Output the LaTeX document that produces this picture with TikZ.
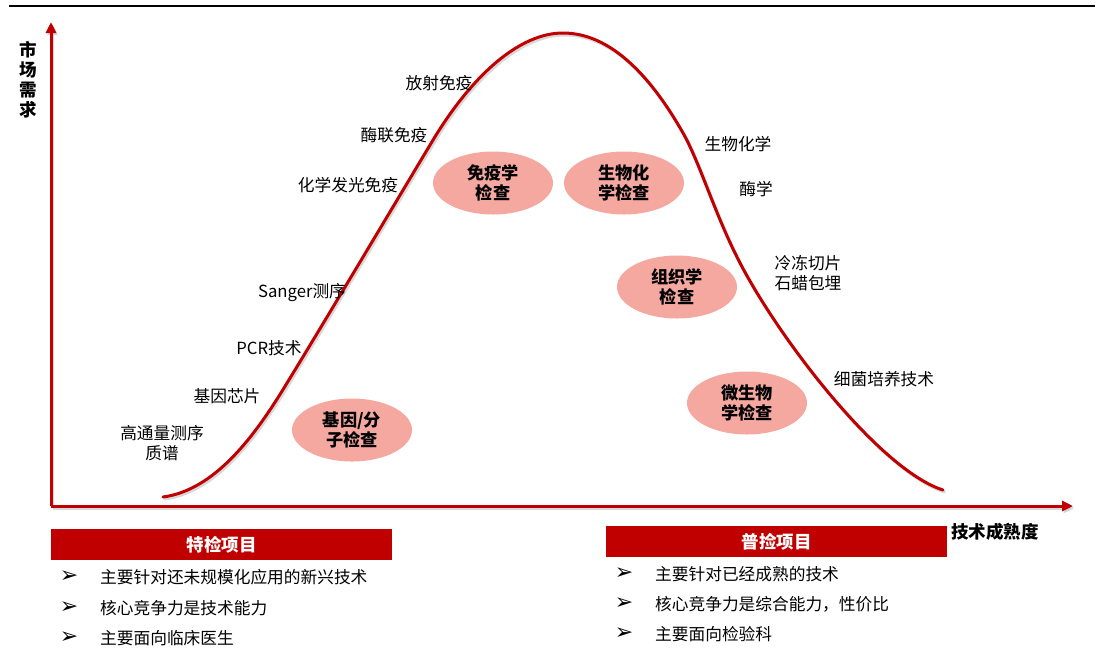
\documentclass[tikz,border=0pt]{standalone}
\usepackage{fontspec}
\setmainfont{Noto Sans CJK SC}
\newfontfamily\dvs{DejaVu Sans}
\usetikzlibrary{arrows.meta,shapes.geometric}
\definecolor{axisred}{RGB}{192,0,0}
\definecolor{ellfill}{RGB}{245,168,160}
\begin{document}
\begin{tikzpicture}[x=1pt,y=-1pt,
  lbl/.style={font=\fontsize{16.7}{20}\selectfont, text=black, inner sep=0pt, align=center},
  ell/.style={ellipse, fill=ellfill, minimum width=120pt, minimum height=63pt, inner sep=0pt, align=center, font=\fontsize{17.2}{20}\selectfont\bfseries},
  hdr/.style={fill=axisred, text=white, font=\fontsize{17.5}{20}\selectfont\bfseries, inner sep=0pt, anchor=north west, minimum height=31pt},
  bul/.style={font=\fontsize{16.7}{20}\selectfont, text=black, anchor=west, inner sep=0pt},
  arr/.style={font=\dvs\fontsize{22}{22}\selectfont, inner sep=0pt},
  axis/.style={draw=axisred, line width=3pt, -{Triangle[length=11pt,width=10pt]}},
  shadowax/.style={draw=black!30, line width=3pt, opacity=0.5, -{Triangle[length=11pt,width=10pt]}},
  bold/.style={font=\fontsize{17.5}{20}\selectfont\bfseries, inner sep=0pt, align=center},
  curve/.style={line width=3pt, line cap=round},
]
\useasboundingbox (0,0) rectangle (1098,657);

% top rule
\coordinate (tl) at (9,6);
\coordinate (tr) at (1095,6);
\draw[line width=2pt] (tl) -- (tr);

% axes
\coordinate (O) at (51,506);
\coordinate (ytop) at (51,22);
\coordinate (xend) at (1073,506);
\begin{scope}[transform canvas={shift={(1.5,2)}}]
  \draw[shadowax] (O) -- (ytop);
  \draw[shadowax] (O) -- (xend);
\end{scope}
\draw[axis] (O) -- (ytop);
\draw[axis] (O) -- (xend);

\node[bold] (ylab) at (28,80) {市\\场\\需\\求};
\node[bold] (xlab) at (995,532) {技术成熟度};

% curve
\def\bell{(163,497) .. controls (215,490) and (255,436) .. (287,383)
  .. controls (322,326) and (400,195) .. (433,140)
  .. controls (473,74) and (520,33) .. (563,33)
  .. controls (610,33) and (650,75) .. (683,133)
  .. controls (700,163) and (715,215) .. (740,263)
  .. controls (780,340) and (880,470) .. (943,490)}
\begin{scope}[transform canvas={shift={(1.5,2)}}]
  \draw[curve, black!30, opacity=0.5] \bell;
\end{scope}
\draw[curve, axisred] \bell;

% ellipses
\node[ell] (imm) at (493,183) {免疫学\\检查};
\node[ell] (bio) at (624,183) {生物化\\学检查};
\node[ell] (his) at (677,287) {组织学\\检查};
\node[ell] (mic) at (747,403) {微生物\\学检查};
\node[ell] (gen) at (352,430) {基因/分\\子检查};

% labels
\node[lbl] (l1) at (439,83) {放射免疫};
\node[lbl] (l2) at (394,135) {酶联免疫};
\node[lbl] (l3) at (348,185) {化学发光免疫};
\node[lbl] (l4) at (302,293) {Sanger测序};
\node[lbl] (l5) at (269,348) {PCR技术};
\node[lbl] (l6) at (227,396) {基因芯片};
\node[lbl] (l7) at (162,443) {高通量测序\\质谱};
\node[lbl] (r1) at (738,144) {生物化学};
\node[lbl] (r2) at (756,189) {酶学};
\node[lbl, align=left] (r3) at (808,273) {冷冻切片\\石蜡包埋};
\node[lbl] (r4) at (884,379) {细菌培养技术};

% bottom left block
\node[hdr, minimum width=341pt] (tj) at (51,529) {特检项目};
\node[arr] (a1) at (69,577) {➢};
\node[arr] (a2) at (69,608) {➢};
\node[arr] (a3) at (69,638) {➢};
\node[bul] (b1) at (100,577) {主要针对还未规模化应用的新兴技术};
\node[bul] (b2) at (100,608) {核心竞争力是技术能力};
\node[bul] (b3) at (100,638) {主要面向临床医生};

% bottom right block
\node[hdr, minimum width=341pt] (pj) at (606,526) {普捡项目};
\node[arr] (c1) at (624,574) {➢};
\node[arr] (c2) at (624,604) {➢};
\node[arr] (c3) at (624,634) {➢};
\node[bul] (d1) at (655,574) {主要针对已经成熟的技术};
\node[bul] (d2) at (655,604) {核心竞争力是综合能力，性价比};
\node[bul] (d3) at (655,634) {主要面向检验科};
\end{tikzpicture}
\end{document}
